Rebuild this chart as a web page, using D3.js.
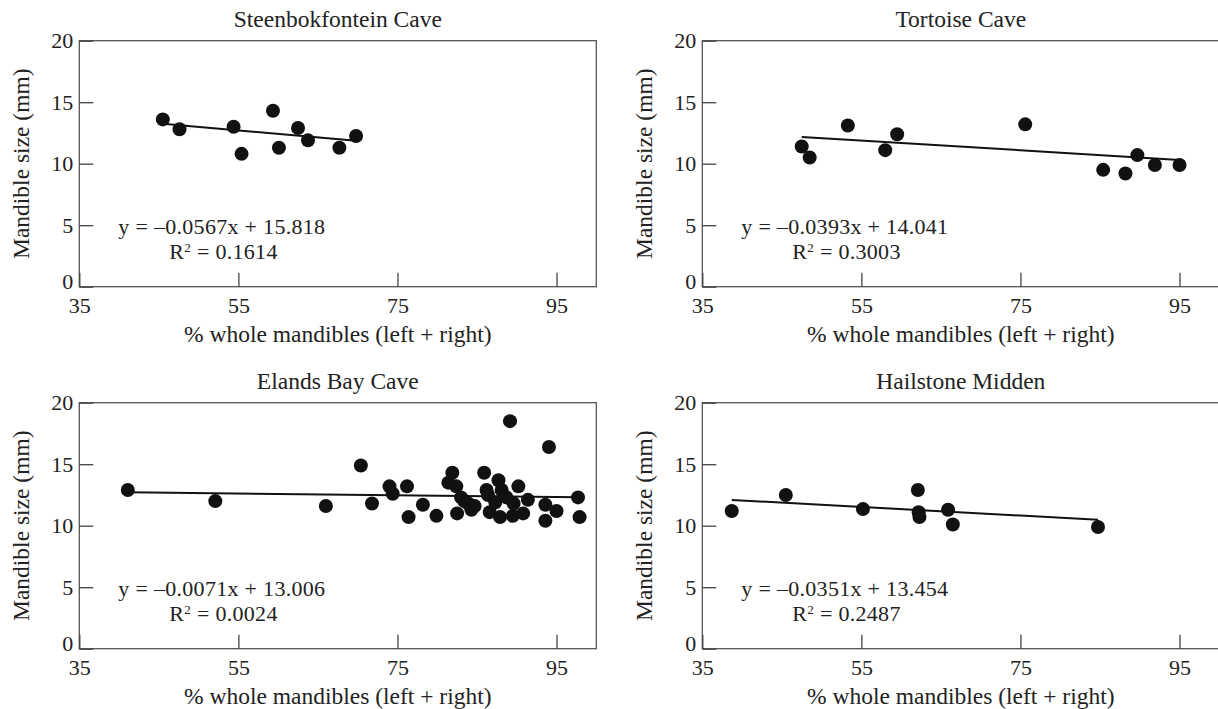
<!DOCTYPE html>
<html>
<head>
<meta charset="utf-8">
<script src="https://cdn.jsdelivr.net/npm/d3@7"></script>
<style>
  body { margin: 0; background: #fff; }
  text { font-family: 'Liberation Serif', 'Times New Roman', serif; fill: #222; }
</style>
</head>
<body>
<script>
var sites = ['Steenbokfontein Cave', 'Tortoise Cave', 'Elands Bay Cave', 'Hailstone Midden']
var slopes = [-0.0567, -0.0393, -0.0071, -0.0351]
var intercepts = [15.818, 14.041, 13.006, 13.454]
var rSquared = ['0.1614', '0.3003', '0.0024', '0.2487']
var xTicks = [35, 55, 75, 95]
var yTicks = [0, 5, 10, 15, 20]

// [% whole mandibles, mandible size mm]
var steenbokfontein = [
  [45.5, 13.6], [47.6, 12.8], [54.4, 13.0], [55.4, 10.8], [59.35, 14.3],
  [60.1, 11.3], [62.5, 12.9], [63.75, 11.9], [67.7, 11.3], [69.8, 12.25]
]
var tortoise = [
  [47.5, 11.4], [48.5, 10.5], [53.3, 13.1], [58.0, 11.1], [59.5, 12.4],
  [75.6, 13.2], [85.4, 9.5], [88.2, 9.2], [89.7, 10.7], [91.9, 9.9], [95.0, 9.9]
]
var elandsBay = [
  [41.1, 12.9], [52.1, 12.0], [66.0, 11.6], [70.4, 14.9], [71.8, 11.8],
  [74.0, 13.2], [74.4, 12.6], [76.2, 13.2], [76.4, 10.7], [78.2, 11.7],
  [79.9, 10.8], [81.4, 13.5], [81.9, 14.3], [82.4, 13.2], [82.5, 11.0],
  [83.0, 12.3], [83.4, 12.0], [83.9, 11.8], [84.3, 11.3], [84.7, 11.6],
  [85.9, 14.3], [86.2, 12.9], [86.4, 12.5], [86.6, 11.1], [87.3, 11.9],
  [87.7, 13.7], [88.1, 12.9], [87.9, 10.7], [88.7, 12.3], [89.15, 18.5],
  [89.5, 10.8], [89.6, 11.8], [90.2, 13.2], [90.8, 11.0], [91.4, 12.1],
  [93.6, 11.7], [93.6, 10.4], [94.05, 16.4], [95.0, 11.2], [97.7, 12.3],
  [97.9, 10.7]
]
var hailstone = [
  [38.7, 11.2], [45.5, 12.5], [55.2, 11.35], [62.1, 12.9], [62.2, 11.1],
  [62.3, 10.7], [65.9, 11.3], [66.5, 10.1], [84.75, 9.9]
]
var siteData = [steenbokfontein, tortoise, elandsBay, hailstone]

var w = 1218
var h = 709
var width = 517
var height = 246
var cols = [79.3, 702.3]
var rows = [40.7, 402.7]
var font = "'Liberation Serif', 'Times New Roman', serif"

var svg = d3.select('body')
            .append('svg')
            .attr('width', w)
            .attr('height', h)

svg.append('rect').attr('width', w).attr('height', h).attr('fill', '#fff')

var x = d3.scaleLinear().domain([35, 100]).range([0, width])
var y = d3.scaleLinear().domain([0, 20]).range([height, 0])

sites.forEach(function (name, i) {
  var data = siteData[i]
  var g = svg.append('g')
    .attr('transform', 'translate(' + cols[i % 2] + ',' + rows[Math.floor(i / 2)] + ')')

  // frame
  g.append('rect')
    .attr('width', width)
    .attr('height', height)
    .attr('fill', 'none')
    .attr('stroke', '#555')
    .attr('stroke-width', 1.3)

  var xAxis = d3.axisBottom(x).tickValues(xTicks).tickSizeInner(-14).tickSizeOuter(0).tickPadding(11)
  var yAxis = d3.axisLeft(y).tickValues(yTicks).tickSizeInner(-14).tickSizeOuter(0).tickPadding(6)

  var gx = g.append('g').attr('transform', 'translate(0,' + height + ')').call(xAxis)
  var gy = g.append('g').call(yAxis)
  ;[gx, gy].forEach(function (a) {
    a.select('.domain').remove()
    a.selectAll('line').attr('stroke', '#444').attr('stroke-width', 1.3)
    a.selectAll('text').style('font-family', font).style('font-size', '22px').attr('fill', '#222')
  })
  // the "0" label sits just above the first x label
  gy.selectAll('.tick text').filter(function (d) { return d === 0 }).attr('dy', '0.1em')

  // title and axis labels
  g.append('text')
    .attr('x', width / 2)
    .attr('y', -14)
    .attr('text-anchor', 'middle')
    .style('font-size', '23.5px')
    .text(name)

  g.append('text')
    .attr('x', width / 2)
    .attr('y', height + 55)
    .attr('text-anchor', 'middle')
    .style('font-size', '23.5px')
    .text('% whole mandibles (left + right)')

  g.append('text')
    .attr('transform', 'translate(-50,' + height / 2 + ') rotate(-90)')
    .attr('text-anchor', 'middle')
    .style('font-size', '23.5px')
    .text('Mandible size (mm)')

  // trend line over the data extent
  var ext = d3.extent(data, function (d) { return d[0] })
  g.append('line')
    .attr('x1', x(ext[0]))
    .attr('y1', y(slopes[i] * ext[0] + intercepts[i]))
    .attr('x2', x(ext[1]))
    .attr('y2', y(slopes[i] * ext[1] + intercepts[i]))
    .attr('stroke', '#111')
    .attr('stroke-width', 2)

  g.selectAll('.dot')
    .data(data)
    .enter()
      .append('circle')
      .classed('dot', true)
      .attr('cx', function (d) { return x(d[0]) })
      .attr('cy', function (d) { return y(d[1]) })
      .attr('r', 7)
      .attr('fill', '#111')

  // regression equation
  g.append('text')
    .attr('x', 39)
    .attr('y', height - 53)
    .style('font-size', '22px')
    .style('letter-spacing', '0.3px')
    .text('y = –' + Math.abs(slopes[i]).toFixed(4) + 'x + ' + intercepts[i].toFixed(3))

  var r2 = g.append('text')
    .attr('x', 90)
    .attr('y', height - 27.5)
    .style('font-size', '22px')
    .style('letter-spacing', '0.3px')
  r2.append('tspan').text('R')
  r2.append('tspan').attr('dy', -7).style('font-size', '13px').text('2')
  r2.append('tspan').attr('dy', 7).text(' = ' + rSquared[i])
})
</script>
</body>
</html>
